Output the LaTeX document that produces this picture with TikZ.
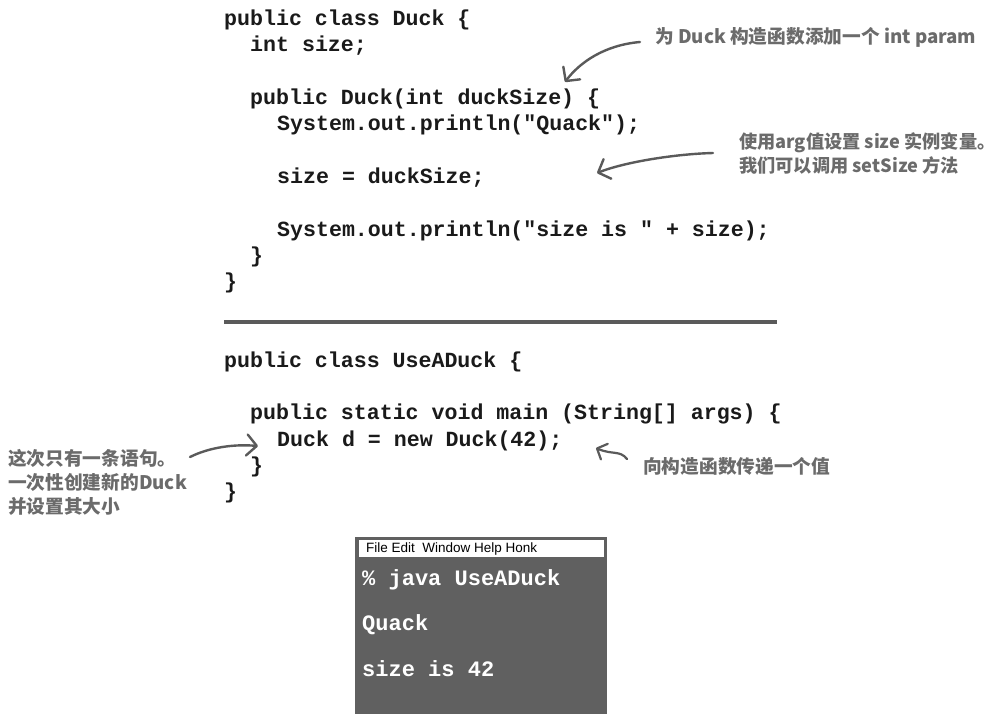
\documentclass[tikz,border=0pt]{standalone}
\usepackage{fontspec}
\usetikzlibrary{arrows.meta}
\newfontfamily\codefont{Liberation Mono}
\newfontfamily\cjkfont{Noto Sans CJK SC}
\newfontfamily\menufont{Liberation Sans}
\definecolor{codecol}{HTML}{1A1A1A}
\definecolor{notecol}{HTML}{6B6B6B}
\definecolor{arrowcol}{HTML}{5A5A5A}
\definecolor{rulecol}{HTML}{5A5A5A}
\definecolor{consolecol}{HTML}{606060}
\tikzset{
  codeline/.style={anchor=base west, inner sep=0pt, text=codecol,
    font=\codefont\bfseries\fontsize{21.6}{26}\selectfont},
  consoleline/.style={anchor=base west, inner sep=0pt, text=white,
    font=\codefont\bfseries\fontsize{22}{26}\selectfont},
  noteline/.style={anchor=base west, inner sep=0pt, text=notecol,
    font=\cjkfont\bfseries\fontsize{18.7}{24}\selectfont},
  notesmall/.style={noteline, font=\cjkfont\bfseries\fontsize{18.2}{24}\selectfont},
  handarrow/.style={draw=arrowcol, line width=2.4pt, line cap=round,
    -{Straight Barb[length=10pt,width=21pt,line width=2.4pt,round]}},
  smallarrow/.style={draw=arrowcol, line width=2.2pt, line cap=round,
    -{Straight Barb[length=8pt,width=17pt,line width=2.2pt,round]}},
}
\begin{document}
\begin{tikzpicture}[x=1pt,y=-1pt]
\useasboundingbox[fill=white] (0,0) rectangle (999,721);

% --- class Duck
\node[codeline] (c1) at (224,25) {public class Duck \{};
\node[codeline] (c2) at (250,51) {int size;};
\node[codeline] (c3) at (250,104) {public Duck(int duckSize) \{};
\node[codeline] (c4) at (277,130) {System.out.println("Quack");};
\node[codeline] (c5) at (277,183) {size = duckSize;};
\node[codeline] (c6) at (277,236) {System.out.println("size is " + size);};
\node[codeline] (c7) at (250,262) {\}};
\node[codeline] (c8) at (224,288) {\}};

% --- separator
\coordinate (r1) at (224,322);
\coordinate (r2) at (777,322);
\draw[rulecol, line width=4.5pt] (r1) -- (r2);

% --- class UseADuck
\node[codeline] (d1) at (224,367) {public class UseADuck \{};
\node[codeline] (d2) at (250,419) {public static void main (String[] args) \{};
\node[codeline] (d3) at (277,446) {Duck d = new Duck(42);};
\node[codeline] (d4) at (250,472) {\}};
\node[codeline] (d5) at (224,498) {\}};

% --- annotations
\node[noteline] (n1) at (655,43) {为 Duck 构造函数添加一个 int param};
\node[notesmall] (n2a) at (739,148) {使用arg值设置 size 实例变量。};
\node[notesmall] (n2b) at (739,172) {我们可以调用 setSize 方法};
\node[noteline] (n3a) at (8,465) {这次只有一条语句。};
\node[noteline] (n3b) at (8,489) {一次性创建新的Duck};
\node[noteline] (n3c) at (8,513) {并设置其大小};
\node[noteline] (n4) at (643,473) {向构造函数传递一个值};

% --- arrows
\coordinate (a1s) at (640,42);
\coordinate (a1e) at (565,82);
\draw[handarrow] (a1s) .. controls (605,45) and (580,62) .. (a1e);

\coordinate (a2s) at (713,153);
\coordinate (a2e) at (597,173);
\draw[handarrow] (a2s) .. controls (675,154) and (625,162) .. (a2e);

\coordinate (a3s) at (190,457);
\coordinate (a3e) at (258,446);
\draw[handarrow] (a3s) .. controls (210,447) and (235,444) .. (a3e);

\coordinate (a4s) at (627,459);
\coordinate (a4e) at (596,448);
\draw[smallarrow] (a4s) .. controls (620,450) and (612,455) .. (a4e);

% --- console window
\node[draw=none, fill=consolecol, minimum width=252pt, minimum height=177pt,
      inner sep=0pt, anchor=north west] (win) at (355,537) {};
\node[fill=white, minimum width=245pt, minimum height=17pt, inner sep=0pt,
      anchor=north west] (menu) at (358.5,540) {};
\node[anchor=base west, inner sep=0pt, text=black,
      font=\menufont\fontsize{13.5}{15}\selectfont] (menutext) at (366,552)
      {File\ Edit\ \ Window\ Help\ Honk};
\node[consoleline] (o1) at (362,585) {\% java UseADuck};
\node[consoleline] (o2) at (362,630) {Quack};
\node[consoleline] (o3) at (362,676) {size is 42};
\end{tikzpicture}
\end{document}
